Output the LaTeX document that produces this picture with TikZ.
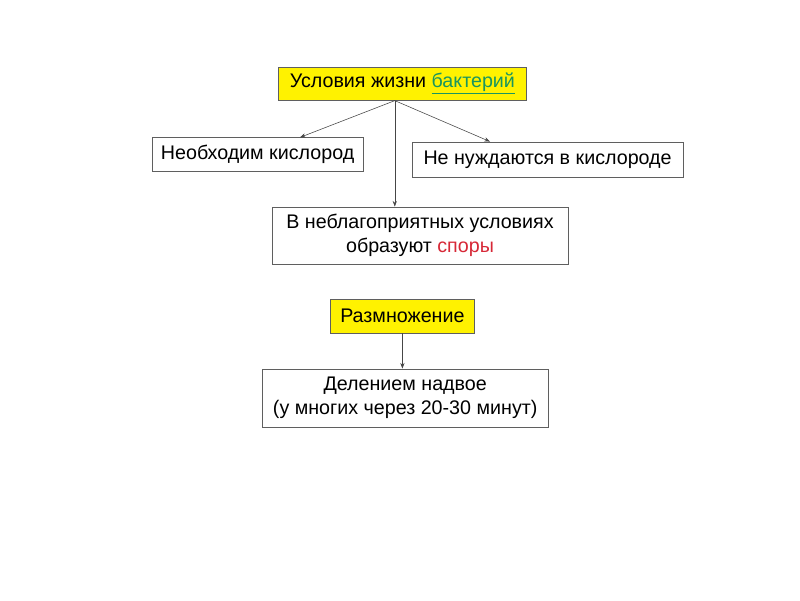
\documentclass[tikz,border=0pt]{standalone}
\usepackage{fontspec}
\setmainfont{Liberation Sans}
\usetikzlibrary{calc,arrows.meta}
\definecolor{boxline}{RGB}{95,95,95}
\definecolor{arrline}{RGB}{70,70,70}
\definecolor{bactgreen}{RGB}{25,150,95}
\definecolor{sporered}{RGB}{215,40,55}

\begin{document}
\begin{tikzpicture}[>={Stealth[length=4pt,width=3pt]},thin,
    box/.style={draw=boxline,fill=white,line width=0.6pt,align=center,font=\fontsize{14}{17}\selectfont,inner sep=2pt},
    ybox/.style={box,fill=yellow}]
    \useasboundingbox (0,0) rectangle (20,15);

    \node (1) [ybox,minimum width=6.18cm,minimum height=0.83cm] at (10.06,12.91){Условия жизни \textcolor{bactgreen}{\underline{бактерий}}};

    \node (2) [box,minimum width=5.28cm,minimum height=0.83cm] at (6.44,11.14){Необходим кислород};
    \node (3) [box,minimum width=6.78cm,minimum height=0.88cm] at (13.69,11.01){Не нуждаются в кислороде};

    \node (4) [box,minimum width=7.4cm,minimum height=1.43cm] at (10.5,9.11){В неблагоприятных условиях\\образуют \textcolor{sporered}{споры}};

    \node (5) [ybox,minimum width=3.58cm,minimum height=0.85cm] at (10.06,7.1){Размножение};
    \node (6) [box,minimum width=7.15cm,minimum height=1.45cm] at (10.13,5.05){Делением надвое\\(у многих через 20-30 минут)};

    \coordinate (fork) at ($(1.south)+(-0.19,0)$);

    \path[every edge/.style={draw=arrline,->}]
        (fork) edge ($(2.north)+(1.06,0)$)
        (fork) edge ($(3.north)+(-1.44,0)$)
        (fork) edge (fork |- 4.north)

        (5.south) edge (5.south |- 6.north)
    ;
\end{tikzpicture}
\end{document}
